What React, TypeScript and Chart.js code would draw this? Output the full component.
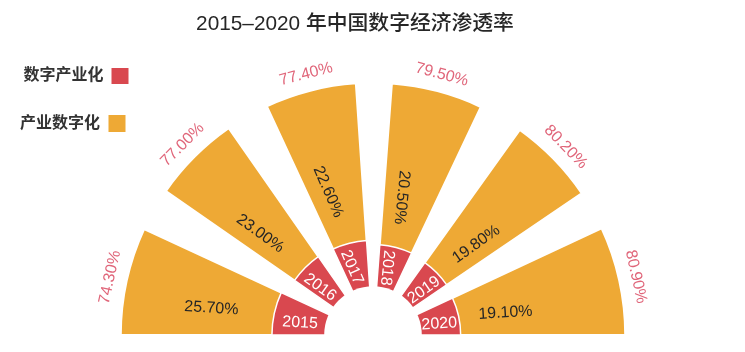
import React, { useEffect, useRef } from 'react';
import { Chart, registerables } from 'chart.js';

Chart.register(...registerables);

// ---- data ----
const years = ['2015', '2016', '2017', '2018', '2019', '2020'];
// 数字产业化 share (%)
const digitalIndustrialization = [25.7, 23.0, 22.6, 20.5, 19.8, 19.1];
// 产业数字化 share (%)
const industrialDigitization = [74.3, 77.0, 77.4, 79.5, 80.2, 80.9];
const seriesNames = ['数字产业化', '产业数字化'];
const titleText = '2015–2020 年中国数字经济渗透率';

// ---- layout (degrees) ----
const sectorAngles = [24.8, 20.3, 21, 21, 20.2, 25];
const gapAngles = [10, 10, 8.2, 10.3, 9.2];

const RED = '#d9484f';
const ORANGE = '#eea935';
const PINK = '#e0667a';
const NUM_FONT = '"Liberation Sans", Arial, sans-serif';
const CJK_FONT = '"Liberation Sans", "Noto Sans CJK SC", sans-serif';

export default function App() {
  const ref = useRef<HTMLCanvasElement>(null);

  useEffect(() => {
    const n = years.length;
    const labels: string[] = [];
    const redData: number[] = [];
    const orangeData: number[] = [];
    const angles: number[] = [];
    const isBar: boolean[] = [];
    for (let i = 0; i < n; i++) {
      labels.push(years[i]);
      redData.push(digitalIndustrialization[i]);
      orangeData.push(digitalIndustrialization[i] + industrialDigitization[i]);
      angles.push(sectorAngles[i]);
      isBar.push(true);
      if (i < n - 1) {
        labels.push('');
        redData.push(0);
        orangeData.push(0);
        angles.push(gapAngles[i]);
        isBar.push(false);
      }
    }

    const drawText = (
      ctx: CanvasRenderingContext2D,
      text: string,
      x: number,
      y: number,
      rotDeg: number,
      color: string,
      font: string
    ) => {
      ctx.save();
      ctx.translate(x, y);
      ctx.rotate((rotDeg * Math.PI) / 180);
      ctx.font = font;
      ctx.fillStyle = color;
      ctx.textAlign = 'center';
      ctx.textBaseline = 'middle';
      ctx.fillText(text, 0, 0);
      ctx.restore();
    };

    const labelPlugin = {
      id: 'roseLabels',
      afterDatasetsDraw(chart: any) {
        const ctx: CanvasRenderingContext2D = chart.ctx;
        const scale = chart.scales.r;
        const cx = scale.xCenter;
        const cy = scale.yCenter;
        const r0 = scale.getDistanceFromCenterForValue(0);
        ctx.save();
        ctx.fillStyle = '#fff';
        ctx.beginPath();
        ctx.arc(cx, cy, r0, 0, Math.PI * 2);
        ctx.fill();
        ctx.restore();

        const meta = chart.getDatasetMeta(0);
        for (let i = 0; i < n; i++) {
          const arc = meta.data[2 * i];
          let midDeg = (((arc.startAngle + arc.endAngle) / 2) * 180) / Math.PI;
          midDeg = ((midDeg % 360) + 360) % 360;
          const inward = midDeg - 180;
          const readsIn = inward <= 110;
          const rot = readsIn ? inward - 9 : inward - 180 + 9;
          const shift = readsIn ? -3 : 3;
          const la = ((midDeg + shift) * Math.PI) / 180;
          const a = digitalIndustrialization[i];
          const b = industrialDigitization[i];
          const rRed = scale.getDistanceFromCenterForValue(a);
          const rYear = (r0 + rRed) / 2 - 1;
          drawText(ctx, years[i], cx + Math.cos(la) * rYear, cy + Math.sin(la) * rYear, rot, '#ffffff', `16px ${NUM_FONT}`);
          const rIn = scale.getDistanceFromCenterForValue(a * 2.2);
          drawText(ctx, a.toFixed(2) + '%', cx + Math.cos(la) * rIn, cy + Math.sin(la) * rIn, rot, '#262626', `16px ${NUM_FONT}`);
          const m = (midDeg * Math.PI) / 180;
          const rOut = scale.getDistanceFromCenterForValue(a + b) + 17;
          drawText(ctx, b.toFixed(2) + '%', cx + Math.cos(m) * rOut, cy + Math.sin(m) * rOut, midDeg + 90 - 360, PINK, `16px ${NUM_FONT}`);
        }
      },
      afterDraw(chart: any) {
        const ctx: CanvasRenderingContext2D = chart.ctx;
        ctx.save();
        // title
        ctx.font = `500 20.8px ${CJK_FONT}`;
        ctx.fillStyle = '#262626';
        ctx.textAlign = 'center';
        ctx.textBaseline = 'middle';
        ctx.fillText(titleText, 355, 24);
        // legend
        ctx.font = `bold 16px ${CJK_FONT}`;
        ctx.fillStyle = '#333333';
        ctx.textAlign = 'right';
        ctx.fillText(seriesNames[0], 103.5, 76);
        ctx.fillText(seriesNames[1], 100, 123.5);
        ctx.fillStyle = RED;
        ctx.fillRect(111.5, 68, 17, 16);
        ctx.fillStyle = ORANGE;
        ctx.fillRect(108.5, 115, 17, 17);
        ctx.restore();
      },
    };

    const chart = new Chart(ref.current as HTMLCanvasElement, {
      type: 'polarArea',
      data: {
        labels,
        datasets: [
          {
            label: seriesNames[0],
            data: redData,
            backgroundColor: (c: any) => (isBar[c.dataIndex] ? RED : 'rgba(0,0,0,0)'),
            borderColor: '#ffffff',
            borderWidth: (c: any) => (isBar[c.dataIndex] ? 1.5 : 0),
            angle: (c: any) => angles[c.dataIndex],
          } as any,
          {
            label: seriesNames[1],
            data: orangeData,
            backgroundColor: (c: any) => (isBar[c.dataIndex] ? ORANGE : 'rgba(0,0,0,0)'),
            borderColor: '#ffffff',
            borderWidth: (c: any) => (isBar[c.dataIndex] ? 2 : 0),
            angle: (c: any) => angles[c.dataIndex],
          } as any,
        ],
      },
      options: {
        responsive: false,
        animation: false,
        devicePixelRatio: 1,
        layout: { padding: { left: 2 } },
        plugins: {
          legend: { display: false },
          tooltip: { enabled: false },
          title: { display: false },
        },
        scales: {
          r: {
            display: false,
            min: -24,
            max: 140.7,
            startAngle: -90,
            ticks: { display: false },
          },
        },
      } as any,
      plugins: [labelPlugin],
    });
    return () => chart.destroy();
  }, []);

  return (
    <div
      style={{
        position: 'fixed',
        left: 0,
        top: 0,
        width: 745,
        height: 352,
        overflow: 'hidden',
        background: '#ffffff',
      }}
    >
      <canvas ref={ref} width={745} height={670} style={{ display: 'block' }} />
    </div>
  );
}
